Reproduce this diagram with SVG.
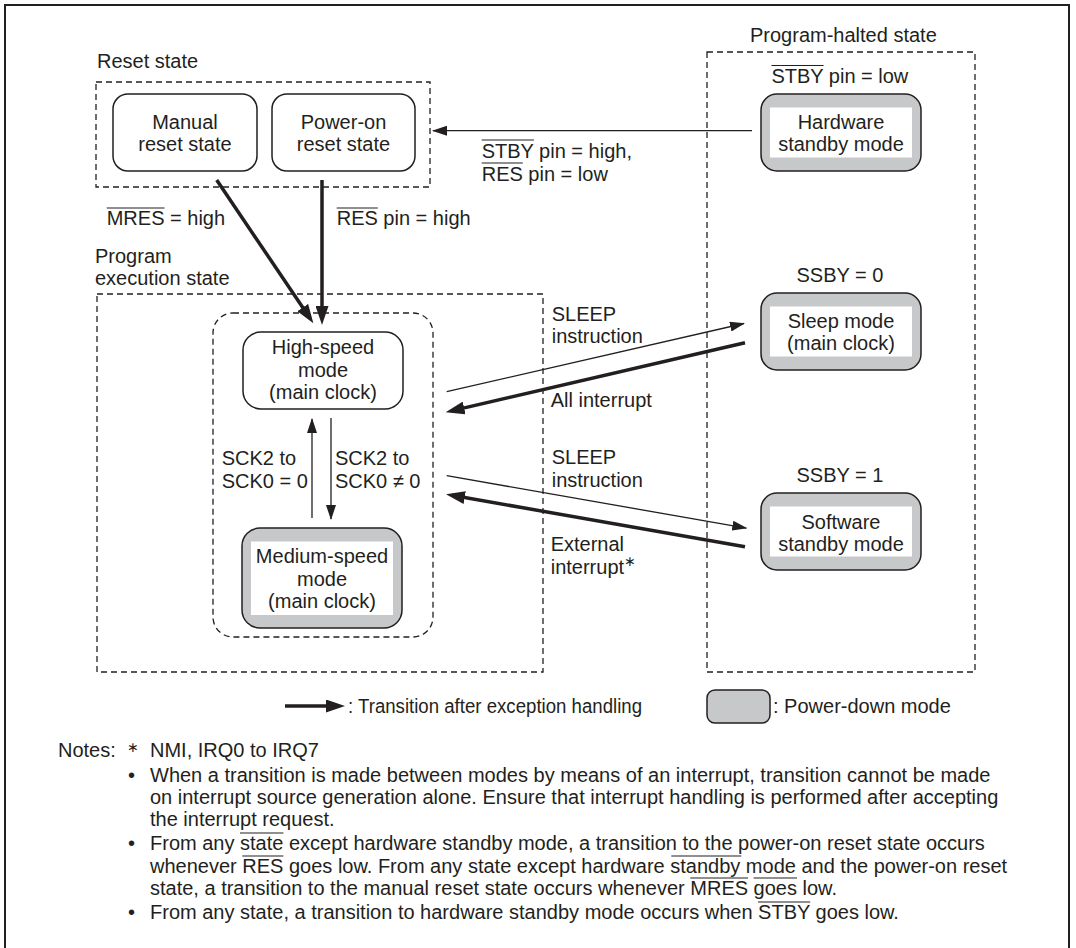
<svg xmlns="http://www.w3.org/2000/svg" width="1076" height="948" viewBox="0 0 1076 948">
<style>
text{font-family:"Liberation Sans",Arial,sans-serif;font-size:20px;fill:#231f20}
.c{text-anchor:middle}
.dash{fill:none;stroke:#231f20;stroke-width:1.3;stroke-dasharray:6 4}
.box{fill:#fff;stroke:#231f20;stroke-width:1.5}
.pd{fill:#c7c8ca;stroke:#231f20;stroke-width:1.5}
.inner{fill:#fff}
.thin{fill:none;stroke:#231f20;stroke-width:1.3;marker-end:url(#ah)}
.thick{fill:none;stroke:#231f20;stroke-width:3.5;marker-end:url(#ahb)}
.ol{stroke:#231f20;stroke-width:1.2}
.sup{font-size:14px}
</style>
<defs>
<marker id="ah" markerUnits="userSpaceOnUse" markerWidth="15" markerHeight="10" refX="14" refY="5" orient="auto"><path d="M0,0 L15,5 L0,10 z" fill="#231f20"/></marker>
<marker id="ahb" markerUnits="userSpaceOnUse" markerWidth="19" markerHeight="13" refX="13" refY="6.5" orient="auto"><path d="M0,0 L19,6.5 L0,13 z" fill="#231f20"/></marker>
</defs>
<rect x="5" y="5" width="1064" height="960" fill="#fff" stroke="#231f20" stroke-width="2"/>

<g id="reset-state">
<text x="97" y="68">Reset state</text>
<rect class="dash" x="96" y="82" width="334" height="105"/>
</g>
<g id="manual-reset">
<rect class="box" x="113" y="94" width="144" height="77" rx="15"/>
<text class="c" x="185" y="129">Manual</text>
<text class="c" x="185" y="151">reset state</text>
</g>
<g id="poweron-reset">
<rect class="box" x="272" y="94" width="143" height="77" rx="15"/>
<text class="c" x="343.5" y="129">Power-on</text>
<text class="c" x="343.5" y="151">reset state</text>
</g>

<g id="program-halted">
<text x="750" y="41.5">Program-halted state</text>
<rect class="dash" x="707" y="52" width="268" height="620"/>
</g>
<g id="hardware-standby">
<text x="771.4" y="83">STBY pin = low</text>
<line class="ol" x1="771.4" y1="65.5" x2="823.6" y2="65.5"/>
<rect class="pd" x="761" y="94" width="160" height="77" rx="16"/>
<rect class="inner" x="770" y="107.5" width="142" height="50"/>
<text class="c" x="841" y="128.5">Hardware</text>
<text class="c" x="841" y="150.5">standby mode</text>
</g>
<g id="sleep-mode">
<text class="c" x="840" y="281.7">SSBY = 0</text>
<rect class="pd" x="761" y="293" width="160" height="77" rx="16"/>
<rect class="inner" x="770" y="306.5" width="142" height="50"/>
<text class="c" x="841" y="327.5">Sleep mode</text>
<text class="c" x="841" y="350">(main clock)</text>
</g>
<g id="software-standby">
<text class="c" x="840" y="481.7">SSBY = 1</text>
<rect class="pd" x="761" y="493" width="160" height="77" rx="16"/>
<rect class="inner" x="770" y="506.5" width="142" height="50"/>
<text class="c" x="841" y="528.5">Software</text>
<text class="c" x="841" y="550.5">standby mode</text>
</g>

<g id="program-execution">
<text x="95" y="263">Program</text>
<text x="95" y="285">execution state</text>
<rect class="dash" x="97" y="294" width="446" height="378"/>
<rect class="dash" x="213" y="313" width="220" height="324" rx="20"/>
</g>
<g id="high-speed">
<rect class="box" x="243" y="332" width="160" height="77" rx="18"/>
<text class="c" x="323" y="354">High-speed</text>
<text class="c" x="323" y="376.5">mode</text>
<text class="c" x="323" y="398.5">(main clock)</text>
</g>
<g id="medium-speed">
<rect class="pd" x="242" y="528" width="160" height="100" rx="18"/>
<rect class="inner" x="251" y="541.5" width="142" height="73.5"/>
<text class="c" x="322" y="563">Medium-speed</text>
<text class="c" x="322" y="585.5">mode</text>
<text class="c" x="322" y="608">(main clock)</text>
</g>

<g id="connectors">
<line class="thick" x1="216.7" y1="180" x2="310" y2="318.3"/>
<line class="thick" x1="322" y1="180" x2="322" y2="319"/>
<line class="thin" x1="752" y1="130.7" x2="433" y2="130.7"/>
<line class="thin" x1="312" y1="518" x2="312" y2="419"/>
<line class="thin" x1="331" y1="418" x2="331" y2="519"/>
<line class="thin" x1="446.7" y1="391.7" x2="744" y2="323.5"/>
<line class="thick" x1="745" y1="342.7" x2="451.5" y2="410.9"/>
<line class="thin" x1="446.7" y1="475.7" x2="746.3" y2="528.1"/>
<line class="thick" x1="745" y1="546.7" x2="451.9" y2="495.3"/>
<text x="106.7" y="225">MRES = high</text>
<line class="ol" x1="106.7" y1="208" x2="164.5" y2="208"/>
<text x="336.7" y="225">RES pin = high</text>
<line class="ol" x1="336.7" y1="208" x2="377.8" y2="208"/>
<text x="481.7" y="157.7">STBY pin = high,</text>
<line class="ol" x1="481.7" y1="140" x2="533.9" y2="140"/>
<text x="481.7" y="180.7">RES pin = low</text>
<line class="ol" x1="481.7" y1="163" x2="522.8" y2="163"/>
<text x="221.7" y="465">SCK2 to</text>
<text x="221.7" y="488.3">SCK0 = 0</text>
<text x="335" y="465">SCK2 to</text>
<text x="335" y="488.3">SCK0 ≠ 0</text>
<text x="551.7" y="320.7">SLEEP</text>
<text x="551.7" y="343.3">instruction</text>
<text x="550.7" y="406.7">All interrupt</text>
<text x="551.7" y="464.3">SLEEP</text>
<text x="551.7" y="487.3">instruction</text>
<text x="550.7" y="550.7">External</text>
<text x="550.7" y="574">interrupt<tspan class="sup" dy="-8">∗</tspan></text>
</g>

<g id="legend">
<line class="thick" x1="285" y1="706" x2="339" y2="706"/>
<text x="348" y="713" textLength="294" lengthAdjust="spacingAndGlyphs">: Transition after exception handling</text>
<rect class="pd" x="707" y="690" width="63" height="33" rx="8"/>
<text x="773" y="713">: Power-down mode</text>
</g>

<g id="notes">
<text x="58" y="757">Notes:</text>
<text x="127" y="752" class="sup">∗</text>
<text x="150" y="757">NMI, IRQ0 to IRQ7</text>
<text x="128" y="782">•</text>
<text x="150" y="782">When a transition is made between modes by means of an interrupt, transition cannot be made</text>
<text x="150" y="804">on interrupt source generation alone. Ensure that interrupt handling is performed after accepting</text>
<text x="150" y="826">the interrupt request.</text>
<text x="128" y="850">•</text>
<text x="150" y="850">From any state except hardware standby mode, a transition to the power-on reset state occurs</text>
<line class="ol" x1="240" y1="833" x2="283.4" y2="833"/>
<text x="150" y="873">whenever RES goes low. From any state except hardware standby mode and the power-on reset</text>
<line class="ol" x1="242.3" y1="856" x2="283.4" y2="856"/>
<line class="ol" x1="671.3" y1="856" x2="741.3" y2="856"/>
<text x="150" y="895">state, a transition to the manual reset state occurs whenever MRES goes low.</text>
<line class="ol" x1="690.3" y1="878" x2="748.1" y2="878"/>
<line class="ol" x1="753.6" y1="878" x2="797" y2="878"/>
<text x="128" y="919">•</text>
<text x="150" y="919">From any state, a transition to hardware standby mode occurs when STBY goes low.</text>
<line class="ol" x1="758" y1="902" x2="810.2" y2="902"/>
</g>
</svg>
